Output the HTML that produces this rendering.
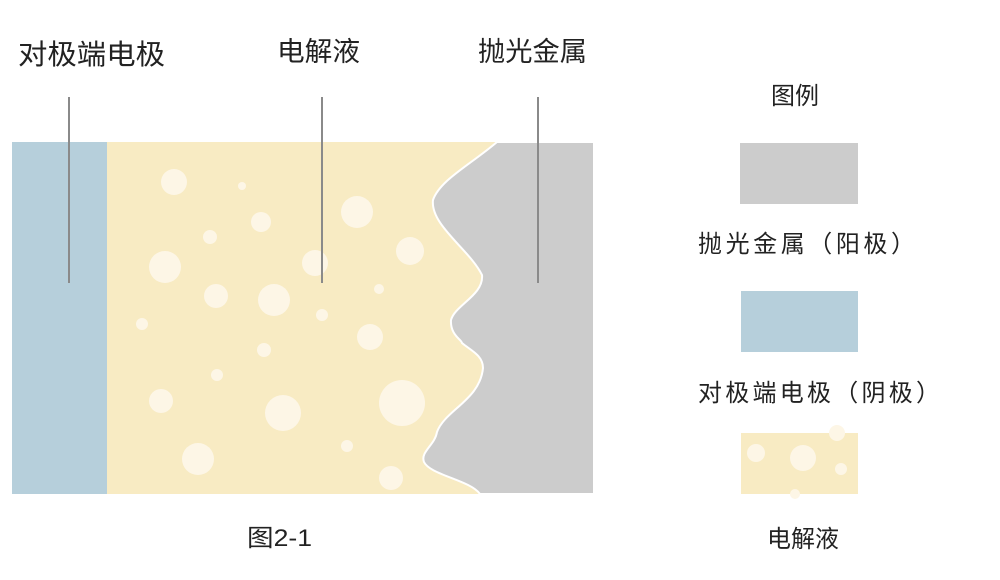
<!DOCTYPE html>
<html><head><meta charset="utf-8"><style>
body{margin:0;background:#fff;width:1000px;height:575px;overflow:hidden}
text{font-family:"Liberation Sans","Noto Sans CJK SC",sans-serif;fill:#222}
</style></head><body>
<svg width="1000" height="575" viewBox="0 0 1000 575">
<rect x="12" y="142" width="582" height="352" fill="#f8ebc3"/>
<rect x="12" y="142" width="95" height="352" fill="#b6cfdb"/>
<g fill="#fdf6e6">
<circle cx="174" cy="182" r="13"/><circle cx="242" cy="186" r="4"/><circle cx="357" cy="212" r="16"/>
<circle cx="261" cy="222" r="10"/><circle cx="210" cy="237" r="7"/><circle cx="165" cy="267" r="16"/>
<circle cx="315" cy="263" r="13"/><circle cx="410" cy="251" r="14"/><circle cx="216" cy="296" r="12"/>
<circle cx="274" cy="300" r="16"/><circle cx="379" cy="289" r="5"/><circle cx="322" cy="315" r="6"/>
<circle cx="142" cy="324" r="6"/><circle cx="370" cy="337" r="13"/><circle cx="264" cy="350" r="7"/>
<circle cx="217" cy="375" r="6"/><circle cx="161" cy="401" r="12"/><circle cx="283" cy="413" r="18"/>
<circle cx="402" cy="403" r="23"/><circle cx="347" cy="446" r="6"/><circle cx="198" cy="459" r="16"/>
<circle cx="391" cy="478" r="12"/>
</g>
<path d="M497,142 C470,165 440,180 433,200 C430,225 470,250 482,275 C484,295 455,305 451,320 C450,335 462,340 462,343 C470,350 483,355 483,368 C480,400 445,410 437,432 C435,445 420,452 424,462 C430,475 470,480 480,494 L594,494 L594,142 Z" fill="#cccccc" stroke="#fff" stroke-width="2"/>
<g stroke="#8a8a8a" stroke-width="2">
<line x1="69" y1="97" x2="69" y2="283"/><line x1="322" y1="97" x2="322" y2="283"/><line x1="538" y1="97" x2="538" y2="283"/>
</g>
<text x="18" y="64" font-size="28" textLength="147" lengthAdjust="spacingAndGlyphs">对极端电极</text>
<text x="277" y="61" font-size="27" textLength="83" lengthAdjust="spacingAndGlyphs">电解液</text>
<text x="478" y="61" font-size="27" textLength="109" lengthAdjust="spacingAndGlyphs">抛光金属</text>
<text x="247" y="546" font-size="24" textLength="65" lengthAdjust="spacingAndGlyphs">图2-1</text>
<text x="795" y="104" font-size="24" text-anchor="middle">图例</text>
<rect x="740" y="143" width="118" height="61" fill="#cccccc"/>
<text x="698" y="252" font-size="24" textLength="217" lengthAdjust="spacing">抛光金属（阳极）</text>
<rect x="741" y="291" width="117" height="61" fill="#b6cfdb"/>
<text x="698" y="401" font-size="24" textLength="242" lengthAdjust="spacing">对极端电极（阴极）</text>
<rect x="741" y="433" width="117" height="61" fill="#f8ebc3"/>
<g fill="#fdf6e6">
<circle cx="756" cy="453" r="9"/><circle cx="803" cy="458" r="13"/><circle cx="841" cy="469" r="6"/>
<circle cx="837" cy="433" r="8"/><circle cx="795" cy="494" r="5"/>
</g>
<text x="803" y="547" font-size="24" text-anchor="middle">电解液</text>
</svg>
</body></html>
